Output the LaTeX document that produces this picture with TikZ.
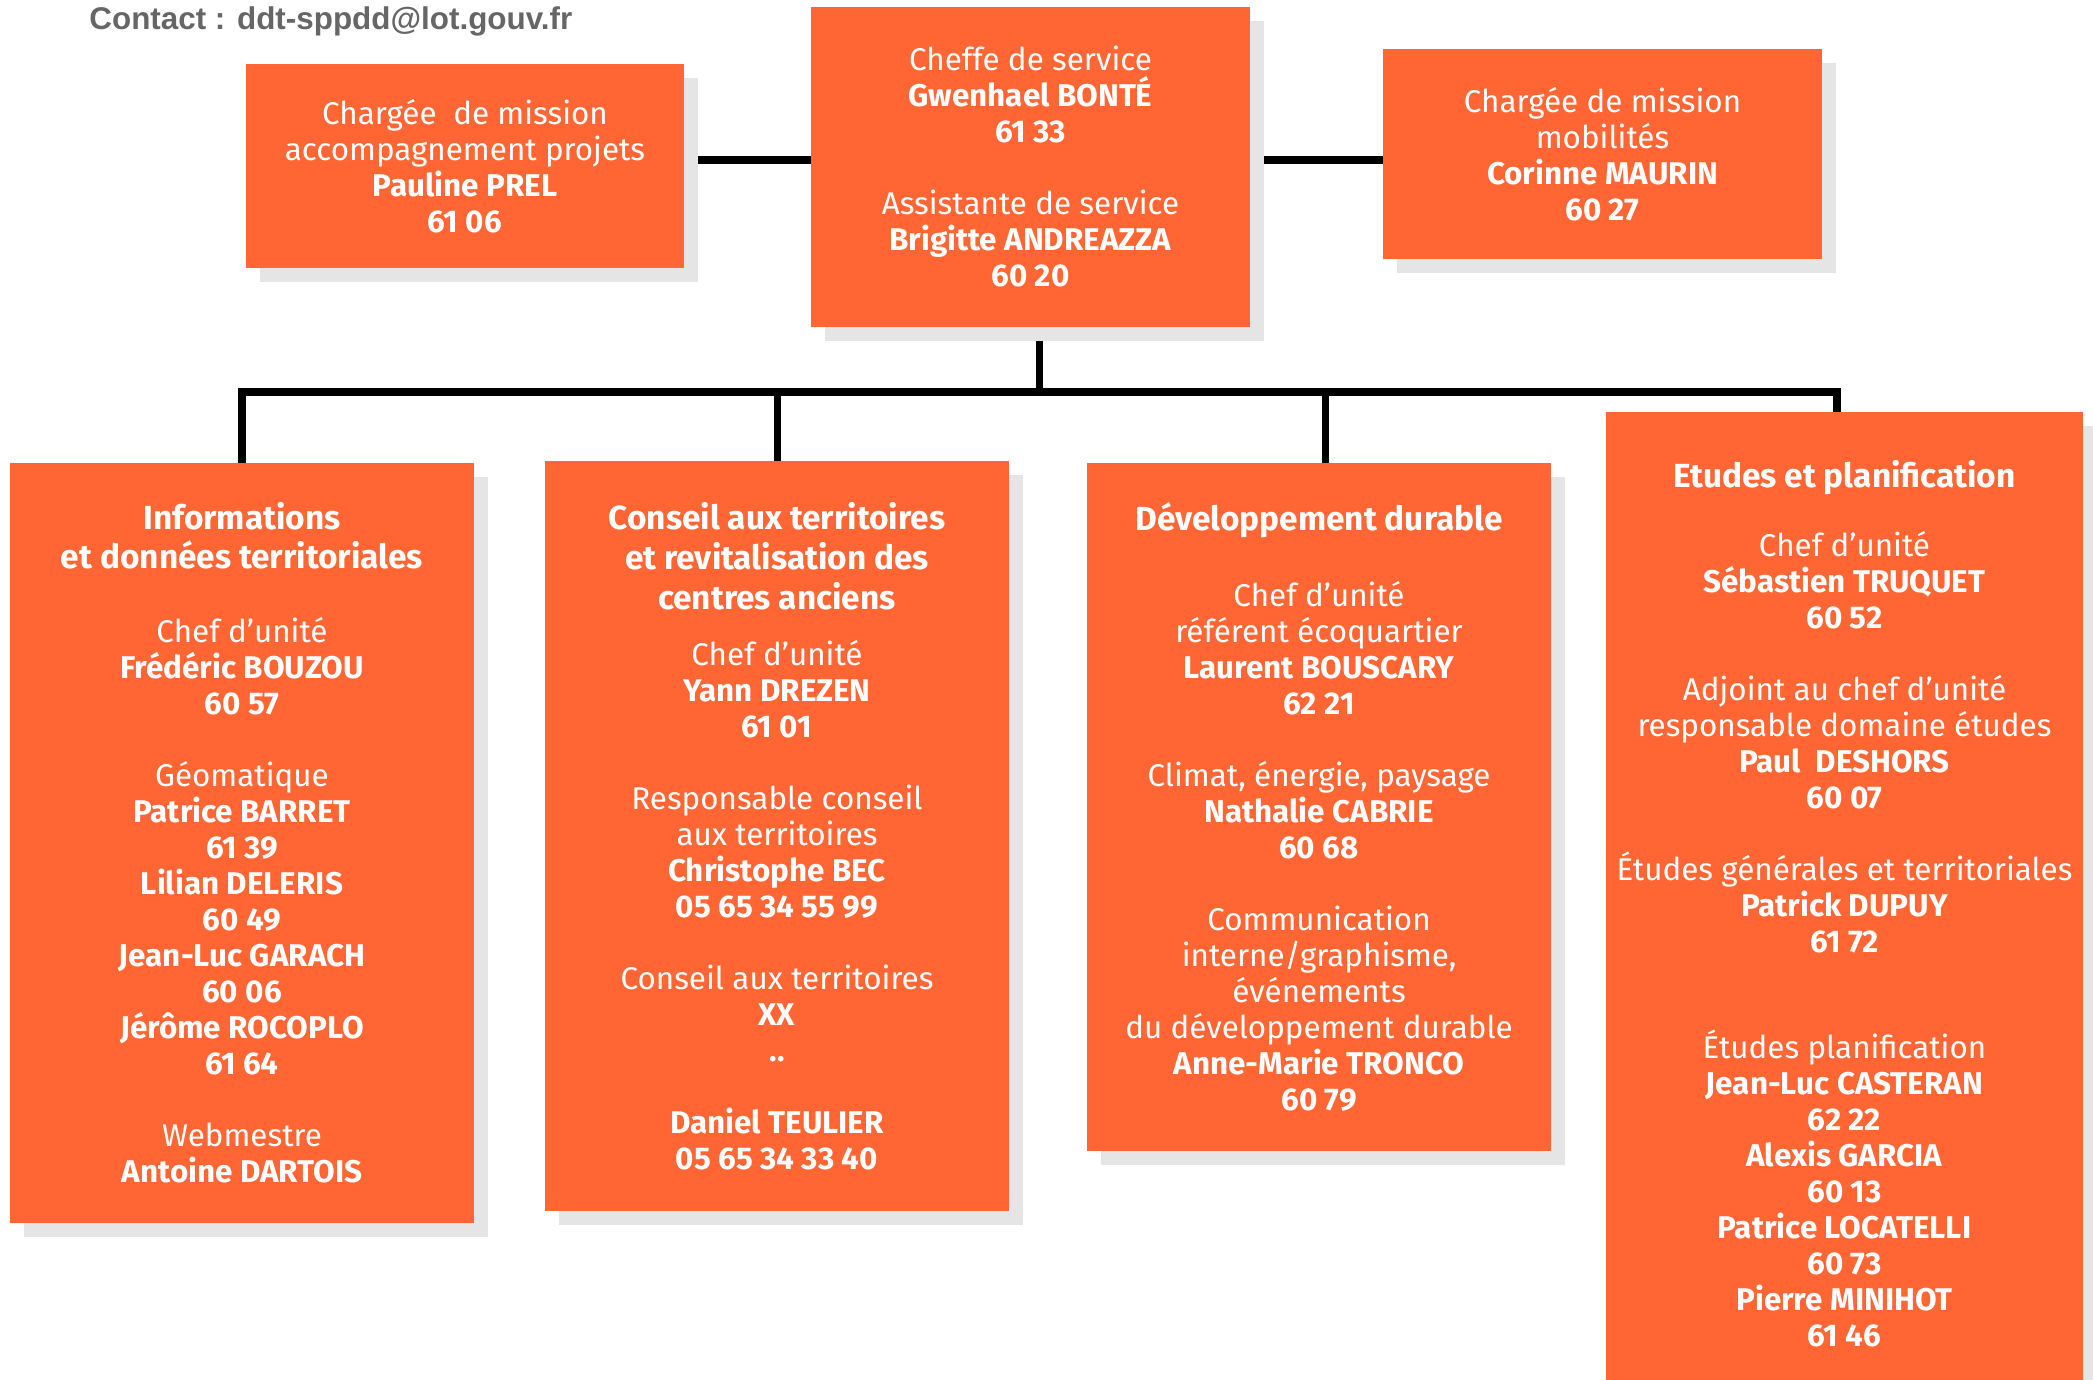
\documentclass[tikz,border=0pt]{standalone}
\usepackage{fontspec}
\setmainfont{Fira Sans}
\newfontfamily\contactfont{Liberation Sans}
\usepackage{xcolor}
\usepackage{tikz}
\usetikzlibrary{shadows,backgrounds}
\definecolor{ddtorange}{HTML}{FF6633}
\definecolor{ddtshadow}{HTML}{E5E5E5}
\definecolor{ddtgrey}{HTML}{666666}
\newcommand{\utitre}{\fontsize{16.7}{19}\selectfont\bfseries}

\begin{document}
\begin{tikzpicture}[x=0.5pt,y=-0.5pt,
	unit/.style={fill=ddtorange,text=white,align=center,inner sep=0pt,
		font=\fontsize{15.7}{18}\selectfont,
		drop shadow={shadow xshift=7pt,shadow yshift=-7pt,fill=ddtshadow,opacity=1}},
	link/.style={line width=4pt},
	drop/.style={line width=3.5pt}]
		\useasboundingbox (0,0) rectangle (2093,1380);
		\node[anchor=base west,inner sep=0pt,text=ddtgrey,font=\contactfont\bfseries\fontsize{15.7}{18}\selectfont] (K) at (89,30) {Contact : ddt-sppdd@lot.gouv.fr};
		%
		\node[unit,minimum width=219pt,minimum height=102pt] (P) at (465,166) {Chargée\ \ de mission\\ accompagnement projets\\ \textbf{Pauline PREL}\\ \textbf{61 06}};
		\node[unit,minimum width=219.5pt,minimum height=160pt] (S) at (1030.5,167) {Cheffe de service\\ \textbf{Gwenhael BONTÉ}\\ \textbf{61 33}\\[18pt] Assistante de service\\ \textbf{Brigitte ANDREAZZA}\\ \textbf{60 20}};
		\node[unit,minimum width=219.5pt,minimum height=105pt] (M) at (1602.5,154) {Chargée de mission\\ mobilités\\ \textbf{Corinne MAURIN}\\ \textbf{60 27}};
		%
		\node[unit,minimum width=232pt,minimum height=380pt] (I) at (242,843) {\utitre Informations\\[1.5pt] \utitre et données territoriales\\[19pt] Chef d’unité\\ \textbf{Frédéric BOUZOU}\\ \textbf{60 57}\\[18pt] Géomatique\\ \textbf{Patrice BARRET}\\ \textbf{61 39}\\ \textbf{Lilian DELERIS}\\ \textbf{60 49}\\ \textbf{Jean-Luc GARACH}\\ \textbf{60 06}\\ \textbf{Jérôme ROCOPLO}\\ \textbf{61 64}\\[18pt] Webmestre\\ \textbf{Antoine DARTOIS}};
		\node[unit,minimum width=232pt,minimum height=375pt] (C) at (777,836) {\utitre Conseil aux territoires\\[2pt] \utitre et revitalisation des\\[2pt] \utitre centres anciens\\[10pt] Chef d’unité\\ \textbf{Yann DREZEN}\\ \textbf{61 01}\\[18pt] Responsable conseil\\ aux territoires\\ \textbf{Christophe BEC}\\ \textbf{05 65 34 55 99}\\[18pt] Conseil aux territoires\\ \textbf{XX}\\ \textbf{..}\\[18pt] \textbf{Daniel TEULIER}\\ \textbf{05 65 34 33 40}};
		\node[unit,minimum width=232pt,minimum height=344pt] (D) at (1319,807) {\utitre Développement durable\\[20pt] Chef d’unité\\ référent écoquartier\\ \textbf{Laurent BOUSCARY}\\ \textbf{62 21}\\[18pt] Climat, énergie, paysage\\ \textbf{Nathalie CABRIE}\\ \textbf{60 68}\\[18pt] Communication\\ interne/graphisme,\\ événements\\ du développement durable\\ \textbf{Anne-Marie TRONCO}\\ \textbf{60 79}};
		\node[unit,minimum width=238.5pt,minimum height=492pt] (E) at (1844.5,904) {\utitre Etudes et planification\\[16.5pt] Chef d’unité\\ \textbf{Sébastien TRUQUET}\\ \textbf{60 52}\\[18pt] Adjoint au chef d’unité\\ responsable domaine études\\ \textbf{Paul\ \ DESHORS}\\ \textbf{60 07}\\[18pt] Études générales et territoriales\\ \textbf{Patrick DUPUY}\\ \textbf{61 72}\\[35pt] Études planification\\ \textbf{Jean-Luc CASTERAN}\\ \textbf{62 22}\\ \textbf{Alexis GARCIA}\\ \textbf{60 13}\\ \textbf{Patrice LOCATELLI}\\ \textbf{60 73}\\ \textbf{Pierre MINIHOT}\\ \textbf{61 46}};
		%
		\coordinate (X) at (1039,392);
		\coordinate (Y) at (1039,160);
		\begin{pgfonlayer}{background}
		\path[link]
		(P.east |- Y) edge (S.west |- Y)
		(S.east |- Y) edge (M.west |- Y);
		\draw[drop] (S.south -| X) -- (X);
		\draw[link] (I) |- (X) -| ([xshift=-4pt]E.north);
		\path[drop]
		(C) edge (C |- X)
		([xshift=3pt]D.north) edge ([xshift=3pt]D.north |- X);
		\end{pgfonlayer}
\end{tikzpicture}
\end{document}
